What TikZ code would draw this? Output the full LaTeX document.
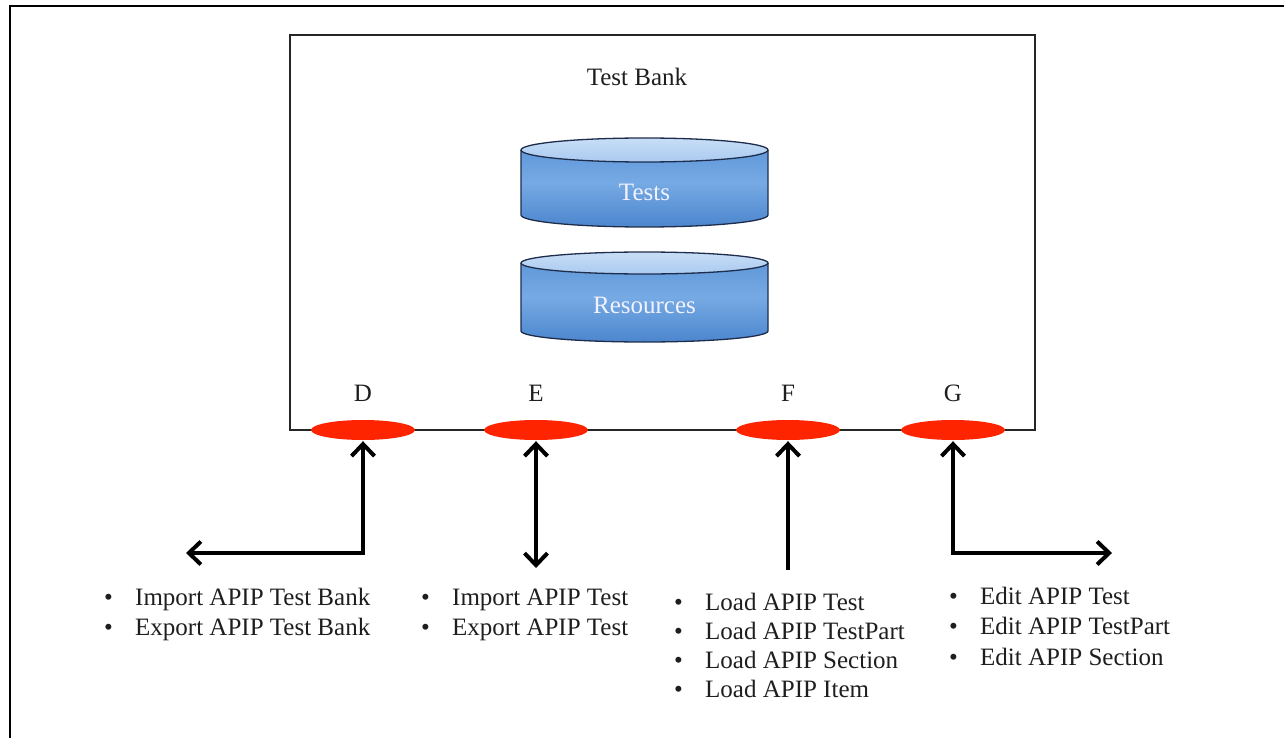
\documentclass[tikz,border=0pt]{standalone}
\usepackage{fontspec}
\setmainfont{Liberation Serif}
\usetikzlibrary{shapes.geometric,arrows.meta}
\definecolor{portred}{RGB}{255,36,0}
\definecolor{cylline}{RGB}{30,45,75}
\definecolor{cyltop}{RGB}{200,222,246}
\definecolor{cyltopb}{RGB}{170,202,240}
\definecolor{cylA}{RGB}{88,146,214}
\definecolor{cylB}{RGB}{118,170,228}
\definecolor{cylC}{RGB}{76,134,206}
\definecolor{textgray}{RGB}{30,30,30}
\begin{document}
\begin{tikzpicture}[x=1pt,y=1pt,
  lbl/.style={font=\fontsize{25}{30}\selectfont, inner sep=0, text=textgray},
  cyltext/.style={font=\fontsize{25}{30}\selectfont, inner sep=0, text=white!95!blue},
  item/.style={font=\fontsize{25}{30}\selectfont, inner sep=0, anchor=base west, text=textgray},
  port/.style={ellipse, fill=portred, minimum width=104pt, minimum height=20pt, inner sep=0},
  arr/.style={line width=4pt, >={Straight Barb[length=12pt,width=23pt]}},
  cylbody/.style={top color=cylA, bottom color=cylC, middle color=cylB},
  cylout/.style={draw=cylline, line width=1.3pt}
]
\useasboundingbox (0,0) rectangle (1284,-738);
% outer frame
\draw[line width=2.6pt] (10,-738) -- (10,-6) -- (1284,-6);
% test bank box
\node[draw=black!85, line width=1.3pt, minimum width=745pt, minimum height=395pt, inner sep=0] (bank) at (662.5,-232.5) {};
\node[lbl] (banklbl) at (637,-77) {Test Bank};
% cylinder Tests
\shade[cylbody] (521,-150) -- (521,-215) arc[start angle=180,end angle=360,x radius=123.5pt,y radius=12pt] -- (768,-150) arc[start angle=0,end angle=180,x radius=123.5pt,y radius=12pt] -- cycle;
\draw[cylout] (521,-150) -- (521,-215) arc[start angle=180,end angle=360,x radius=123.5pt,y radius=12pt] -- (768,-150);
\shade[top color=cyltop, bottom color=cyltopb, cylout] (644.5,-150) ellipse[x radius=123.5pt,y radius=12pt];
\node[cyltext] (tests) at (644.5,-192) {Tests};
% cylinder Resources
\shade[cylbody] (521,-263) -- (521,-331) arc[start angle=180,end angle=360,x radius=123.5pt,y radius=11pt] -- (768,-263) arc[start angle=0,end angle=180,x radius=123.5pt,y radius=11pt] -- cycle;
\draw[cylout] (521,-263) -- (521,-331) arc[start angle=180,end angle=360,x radius=123.5pt,y radius=11pt] -- (768,-263);
\shade[top color=cyltop, bottom color=cyltopb, cylout] (644.5,-263) ellipse[x radius=123.5pt,y radius=11pt];
\node[cyltext] (res) at (644.5,-305) {Resources};
% ports
\node[port] (pD) at (363,-430) {};
\node[port] (pE) at (536,-430) {};
\node[port] (pF) at (788,-430) {};
\node[port] (pG) at (953,-430) {};
\node[lbl] (lD) at (363,-393) {D};
\node[lbl] (lE) at (536,-393) {E};
\node[lbl] (lF) at (788,-393) {F};
\node[lbl] (lG) at (953,-393) {G};
% arrows
\coordinate (endD) at (186,-553);
\coordinate (endE) at (536,-568);
\coordinate (endF) at (788,-570);
\coordinate (endG) at (1112,-553);
\draw[arr,<->] ([yshift=-1pt]pD.south) |- (endD);
\draw[arr,<->] ([yshift=-1pt]pE.south) -- (endE);
\draw[arr,->] (endF) -- ([yshift=-1pt]pF.south);
\draw[arr,<->] ([yshift=-1pt]pG.south) |- (endG);
% lists
\node[item] (d1) at (104,-605) {\makebox[31pt][l]{•}Import APIP Test Bank};
\node[item] (d2) at (104,-635) {\makebox[31pt][l]{•}Export APIP Test Bank};
\node[item] (e1) at (421,-605) {\makebox[31pt][l]{•}Import APIP Test};
\node[item] (e2) at (421,-635) {\makebox[31pt][l]{•}Export APIP Test};
\node[item] (f1) at (674,-610) {\makebox[31pt][l]{•}Load APIP Test};
\node[item] (f2) at (674,-639) {\makebox[31pt][l]{•}Load APIP TestPart};
\node[item] (f3) at (674,-668) {\makebox[31pt][l]{•}Load APIP Section};
\node[item] (f4) at (674,-697) {\makebox[31pt][l]{•}Load APIP Item};
\node[item] (g1) at (949,-604) {\makebox[31pt][l]{•}Edit APIP Test};
\node[item] (g2) at (949,-634) {\makebox[31pt][l]{•}Edit APIP TestPart};
\node[item] (g3) at (949,-665) {\makebox[31pt][l]{•}Edit APIP Section};
\end{tikzpicture}
\end{document}
